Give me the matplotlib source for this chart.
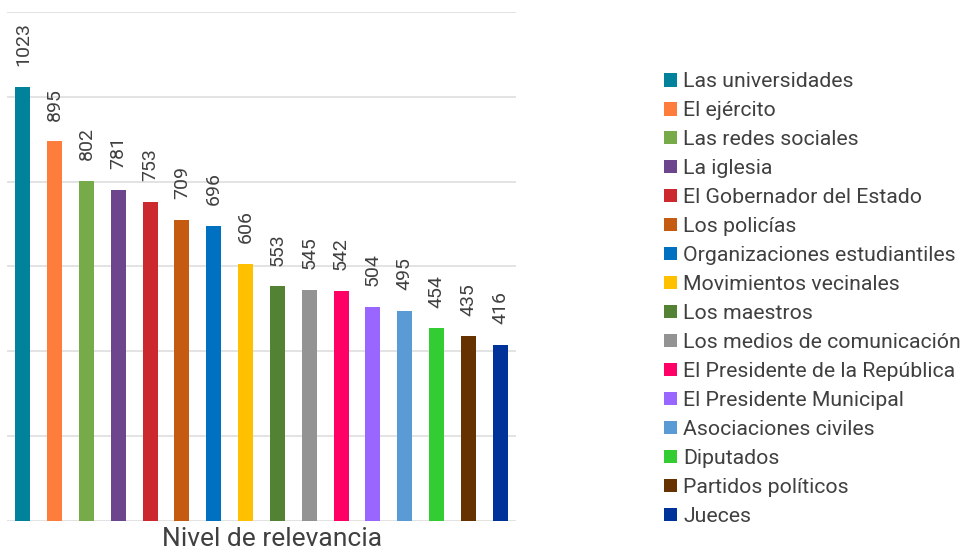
import matplotlib
matplotlib.use('Agg')
import matplotlib.pyplot as plt
from matplotlib.patches import Patch

# Datos
categorias = ['Las universidades', 'El ejército', 'Las redes sociales', 'La iglesia',
              'El Gobernador del Estado', 'Los policías', 'Organizaciones estudiantiles',
              'Movimientos vecinales', 'Los maestros', 'Los medios de comunicación',
              'El Presidente de la República', 'El Presidente Municipal',
              'Asociaciones civiles', 'Diputados', 'Partidos políticos', 'Jueces']
valores = [1023, 895, 802, 781, 753, 709, 696, 606, 553, 545, 542, 504, 495, 454, 435, 416]
colores = ['#01829b', '#fe7d3c', '#77ab49', '#6c458c', '#cc292e', '#c55a11', '#0070c0',
           '#ffc000', '#548235', '#939393', '#ff0066', '#9966ff', '#5b9bd5', '#33cc33',
           '#663300', '#003399']

plt.rcParams['font.family'] = ['Roboto', 'DejaVu Sans']
texto = '#404040'

fig = plt.figure(figsize=(9.6, 5.53), dpi=100)
ax = fig.add_axes([0.0073, 0.0579, 0.5302, 0.9204])

x = list(range(len(valores)))
bars = ax.bar(x, valores, width=0.47, color=colores, zorder=3)

for xi, v in zip(x, valores):
    ax.annotate(str(v), (xi, v), xytext=(0, 15), textcoords='offset points',
                rotation=90, ha='center', va='bottom', fontsize=14, color=texto)

ax.set_xlim(-0.5, len(valores) - 0.5)
ax.set_ylim(0, 1200)
ax.set_yticks(range(0, 1201, 200))
ax.yaxis.grid(True, color='#e0e0e0', linewidth=1.3, zorder=0)
ax.tick_params(left=False, bottom=False, labelleft=False, labelbottom=False)
for s in ax.spines.values():
    s.set_visible(False)
ax.set_xlabel('Nivel de relevancia', fontsize=19, color=texto)
ax.xaxis.set_label_coords(0.52, -0.012)

handles = [Patch(facecolor=c, label=l) for c, l in zip(colores, categorias)]
fig.legend(handles=handles, loc='center left', bbox_to_anchor=(0.683, 0.459),
           frameon=False, fontsize=15.3, handlelength=0.6, handleheight=0.6,
           handletextpad=0.3, labelspacing=0.47, borderaxespad=0, labelcolor=texto)

fig.savefig('out.png', dpi=100)
